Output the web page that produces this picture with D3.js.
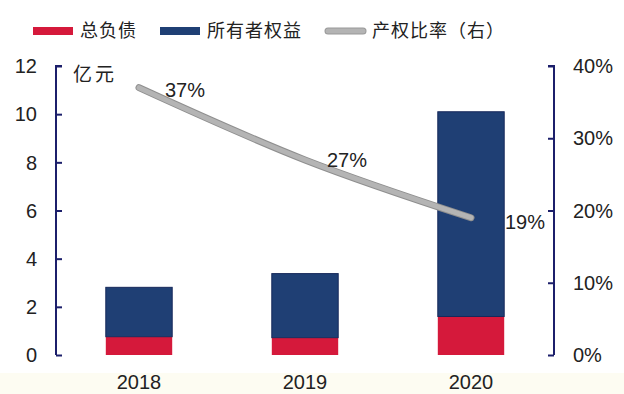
<!DOCTYPE html>
<html>
<head>
<meta charset="utf-8">
<script src="https://cdn.jsdelivr.net/npm/d3@7"></script>
<style>
  html, body { margin: 0; padding: 0; background: #fff; }
  svg { display: block; }
</style>
</head>
<body>
<svg id="chart" width="624" height="394"></svg>
<script>
// Data (亿元 and ratio)
const years = ["2018", "2019", "2020"];
const liabilities = [0.76, 0.72, 1.60];      // 总负债
const equity = [2.05, 2.66, 8.50];           // 所有者权益
const equityRatio = [0.37, 0.27, 0.19];      // 产权比率（右）
const leftTicks = [0, 2, 4, 6, 8, 10, 12];
const rightTicks = [0, 0.1, 0.2, 0.3, 0.4];

const svg = d3.select("#chart");
const W = 624, H = 394;
const plotLeft = 56, plotRight = 554, plotTop = 66, plotBottom = 355;
const axisColor = "#1c1f6b";
const red = "#d5193b", blue = "#1f3f74", gray = "#b4b4b4";
const numFont = "'Liberation Sans', Arial, sans-serif";
const cjkFont = "'Noto Sans CJK SC', sans-serif";

// faint tinted strip along the bottom edge
svg.append("rect").attr("x", 0).attr("y", 373).attr("width", W).attr("height", H - 373)
  .attr("fill", "#fdfcf2");

const x = d3.scaleBand().domain(years).range([plotLeft, plotRight]).paddingInner(0.6).paddingOuter(0.3);
const y = d3.scaleLinear().domain([0, 12]).range([plotBottom, plotTop]);
const yR = d3.scaleLinear().domain([0, 0.4]).range([plotBottom, plotTop]);

// stacked bars
const rows = years.map((yr, i) => ({ year: yr, liab: liabilities[i], eq: equity[i] }));
const stack = d3.stack().keys(["liab", "eq"])(rows);
const colors = { liab: red, eq: blue };
stack.forEach(layer => {
  svg.append("g").selectAll("rect").data(layer).join("rect")
    .attr("x", d => x(d.data.year))
    .attr("width", x.bandwidth())
    .attr("y", d => y(d[1]))
    .attr("height", d => y(d[0]) - y(d[1]))
    .attr("fill", colors[layer.key])
    .attr("stroke", layer.key === "eq" ? "#16285a" : "none")
    .attr("stroke-width", layer.key === "eq" ? 1 : 0);
});

// left axis
const gL = svg.append("g").attr("transform", `translate(${plotLeft},0)`)
  .call(d3.axisRight(y).tickValues(leftTicks).tickSize(6).tickFormat(""));
gL.select(".domain").attr("stroke", axisColor).attr("stroke-width", 2).attr("d", `M6,${plotTop}H0V${plotBottom}`);
gL.selectAll(".tick line").attr("stroke", axisColor).attr("stroke-width", 2);
svg.append("g").selectAll("text").data(leftTicks).join("text")
  .attr("x", 37).attr("y", d => y(d)).attr("dy", "0.36em")
  .attr("text-anchor", "end").attr("font-family", numFont).attr("font-size", 20)
  .attr("fill", "#222").text(d => d);

// right axis
const gR = svg.append("g").attr("transform", `translate(${plotRight},0)`)
  .call(d3.axisLeft(yR).tickValues(rightTicks).tickSize(6).tickFormat(""));
gR.select(".domain").attr("stroke", axisColor).attr("stroke-width", 2).attr("d", `M-6,${plotTop}H0V${plotBottom}`);
gR.selectAll(".tick line").attr("stroke", axisColor).attr("stroke-width", 2);
svg.append("g").selectAll("text").data(rightTicks).join("text")
  .attr("x", 573).attr("y", d => yR(d)).attr("dy", "0.36em")
  .attr("text-anchor", "start").attr("font-family", numFont).attr("font-size", 20)
  .attr("fill", "#222").text(d => d3.format(".0%")(d));

// category labels
svg.append("g").selectAll("text").data(years).join("text")
  .attr("x", d => x(d) + x.bandwidth() / 2).attr("y", 389)
  .attr("text-anchor", "middle").attr("font-family", numFont).attr("font-size", 20)
  .attr("fill", "#222").text(d => d);

// unit label
svg.append("text").attr("x", 73).attr("y", 81).attr("font-family", cjkFont)
  .attr("font-size", 19).attr("letter-spacing", 3).attr("fill", "#222").text("亿元");

// ratio line
const cx = yr => x(yr) + x.bandwidth() / 2;
const lineGen = d3.line().x((d, i) => cx(years[i])).y(d => yR(d)).curve(d3.curveMonotoneX);
svg.append("path").datum(equityRatio).attr("d", lineGen)
  .attr("fill", "none").attr("stroke", "#8f8f8f").attr("stroke-width", 7)
  .attr("stroke-linecap", "round");
svg.append("path").datum(equityRatio).attr("d", lineGen)
  .attr("fill", "none").attr("stroke", gray).attr("stroke-width", 5)
  .attr("stroke-linecap", "round");

// ratio labels
const labelOffsets = [[26, 2], [22, 0], [34, 4]];
svg.append("g").selectAll("text").data(equityRatio).join("text")
  .attr("x", (d, i) => cx(years[i]) + labelOffsets[i][0])
  .attr("y", (d, i) => yR(d) + labelOffsets[i][1])
  .attr("dy", "0.36em")
  .attr("font-family", numFont).attr("font-size", 20).attr("fill", "#222")
  .text(d => d3.format(".0%")(d));

// legend
const legend = [
  { label: "总负债", type: "rect", color: red, x: 33 },
  { label: "所有者权益", type: "rect", color: blue, x: 160 },
  { label: "产权比率（右）", type: "line", color: gray, x: 325 }
];
const lg = svg.append("g");
legend.forEach(l => {
  if (l.type === "rect") {
    lg.append("rect").attr("x", l.x).attr("y", 27).attr("width", 40).attr("height", 8).attr("fill", l.color);
  } else {
    lg.append("line").attr("x1", l.x + 3).attr("x2", l.x + 38).attr("y1", 31).attr("y2", 31)
      .attr("stroke", "#999").attr("stroke-width", 7).attr("stroke-linecap", "round");
    lg.append("line").attr("x1", l.x + 3).attr("x2", l.x + 38).attr("y1", 31).attr("y2", 31)
      .attr("stroke", l.color).attr("stroke-width", 5).attr("stroke-linecap", "round");
  }
  lg.append("text").attr("x", l.x + 47).attr("y", 31).attr("dy", "0.36em")
    .attr("font-family", cjkFont).attr("font-size", 18).attr("letter-spacing", 1)
    .attr("fill", "#222").text(l.label);
});
</script>
</body>
</html>
